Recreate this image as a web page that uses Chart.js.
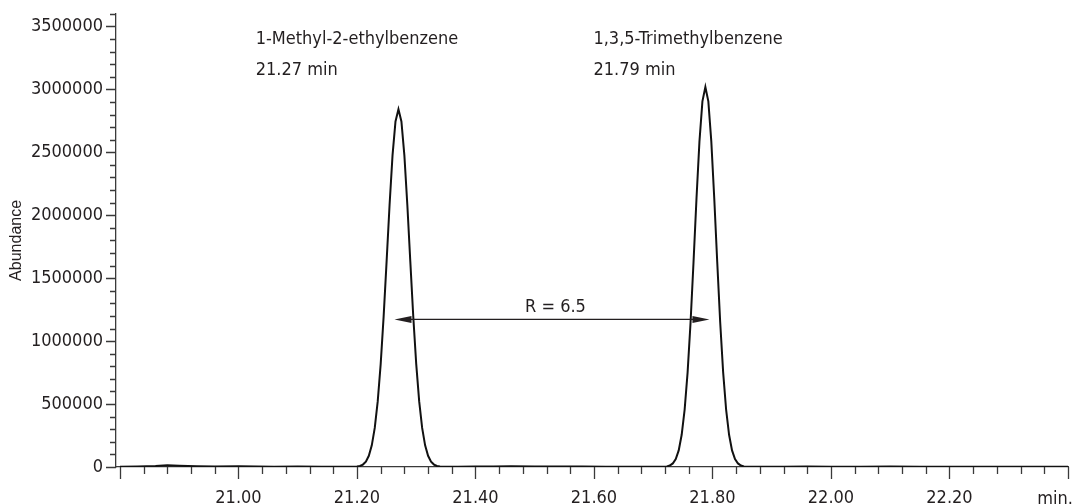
<!DOCTYPE html>
<html>
<head>
<meta charset="utf-8">
<script src="https://cdn.jsdelivr.net/npm/chart.js@4.4.1/dist/chart.umd.min.js"></script>
<style>
  body { margin: 0; background: #fff; }
  #wrap { width: 1077px; height: 504px; }
</style>
</head>
<body>
<div id="wrap"><canvas id="chrom" width="1077" height="504"></canvas></div>
<script>
// retention time (min) / abundance
var baseStartTimes = [20.80, 20.83, 20.86, 20.88, 20.90, 20.93, 20.96, 21.00, 21.03, 21.06, 21.10, 21.14, 21.17];
var baseStartValues = [2000, 4000, 8000, 13000, 10000, 5000, 3000, 6000, 4000, 2000, 3000, 2000, 1500];

var peak1Times = [21.190, 21.195, 21.200, 21.205, 21.210, 21.215, 21.220, 21.225, 21.230, 21.235, 21.240,
    21.245, 21.250, 21.255, 21.260, 21.265, 21.270, 21.275, 21.280, 21.285, 21.290, 21.295, 21.300,
    21.305, 21.310, 21.315, 21.320, 21.325, 21.330, 21.335, 21.340, 21.345, 21.350];
var peak1Values = [2000, 2500, 4000, 8200, 19400, 43000, 89000, 172000, 310000, 521000, 817000,
    1196000, 1633000, 2081000, 2475000, 2745000, 2842000, 2745000, 2475000, 2081000, 1633000, 1196000, 817000,
    521000, 310000, 172000, 89000, 43000, 19400, 8200, 4000, 2500, 2000];

var baseMidTimes = [21.37, 21.40, 21.43, 21.46, 21.50, 21.54, 21.58, 21.62, 21.66, 21.70];
var baseMidValues = [2000, 3000, 4000, 5000, 3000, 4000, 3000, 2000, 2500, 2000];

var peak2Times = [21.713, 21.718, 21.723, 21.728, 21.733, 21.738, 21.743, 21.748, 21.753, 21.758, 21.763,
    21.768, 21.773, 21.778, 21.783, 21.788, 21.793, 21.798, 21.803, 21.808, 21.813, 21.818, 21.823,
    21.828, 21.833, 21.838, 21.843, 21.848, 21.853, 21.858, 21.863];
var peak2Values = [2000, 2500, 4400, 11700, 28300, 63700, 132000, 256000, 456000, 752000, 1150000,
    1628000, 2133000, 2587000, 2904000, 3018000, 2904000, 2587000, 2133000, 1628000, 1150000, 752000, 456000,
    256000, 132000, 63700, 28300, 11700, 4400, 2500, 2000];

var baseEndTimes = [21.88, 21.92, 21.96, 22.00, 22.05, 22.10, 22.15, 22.20, 22.25, 22.30, 22.35, 22.40];
var baseEndValues = [2000, 2000, 3000, 2000, 2000, 3000, 2000, 2000, 2000, 2000, 2000, 2000];

var peakNames = ['1-Methyl-2-ethylbenzene', '1,3,5-Trimethylbenzene'];
var peakTimeLabels = ['21.27 min', '21.79 min'];
var resolutionLabel = 'R = 6.5';

var allTimes = baseStartTimes.concat(peak1Times, baseMidTimes, peak2Times, baseEndTimes);
var allValues = baseStartValues.concat(peak1Values, baseMidValues, peak2Values, baseEndValues);
var points = allTimes.map(function (t, i) { return { x: t, y: allValues[i] }; });

var narrow = '"Liberation Sans Narrow", "DejaVu Sans Condensed", sans-serif';
var axisColor = '#3a3a3a';
var textColor = '#231f20';

// tick marks (long majors, short minors) plus the text annotations
var extras = {
    id: 'extras',
    afterDraw: function (chart) {
        var c = chart.ctx;
        var xs = chart.scales.x;
        var ys = chart.scales.y;
        var area = chart.chartArea;
        c.save();
        c.strokeStyle = axisColor;
        c.lineWidth = 1.3;
        c.beginPath();
        ys.ticks.forEach(function (tk) {
            var py = Math.round(ys.getPixelForValue(tk.value)) + 0.5;
            var len = tk.value % 500000 === 0 ? 10 : 6;
            c.moveTo(area.left - len, py);
            c.lineTo(area.left, py);
        });
        xs.ticks.forEach(function (tk) {
            var px = Math.round(xs.getPixelForValue(tk.value)) + 0.5;
            var len = Math.round(tk.value * 100) % 20 === 0 ? 12 : 7;
            c.moveTo(px, area.bottom);
            c.lineTo(px, area.bottom + len);
        });
        c.stroke();

        c.fillStyle = textColor;
        c.font = '18px ' + narrow;
        c.textBaseline = 'middle';
        c.textAlign = 'left';
        c.fillText(peakNames[0], xs.getPixelForValue(21.029), ys.getPixelForValue(3397000));
        c.fillText(peakTimeLabels[0], xs.getPixelForValue(21.029), ys.getPixelForValue(3151000));
        c.fillText(peakNames[1], xs.getPixelForValue(21.599), ys.getPixelForValue(3397000));
        c.fillText(peakTimeLabels[1], xs.getPixelForValue(21.599), ys.getPixelForValue(3151000));

        c.textAlign = 'center';
        c.fillText(resolutionLabel, xs.getPixelForValue(21.535), ys.getPixelForValue(1267000));

        c.textAlign = 'right';
        c.fillText('min.', 1073, 499);

        // double arrow between the peaks
        var ay = ys.getPixelForValue(1172000);
        var ax1 = xs.getPixelForValue(21.2633);
        var ax2 = xs.getPixelForValue(21.7949);
        c.strokeStyle = textColor;
        c.lineWidth = 1.2;
        c.beginPath();
        c.moveTo(ax1 + 10, ay);
        c.lineTo(ax2 - 10, ay);
        c.stroke();
        c.beginPath();
        c.moveTo(ax1, ay);
        c.lineTo(ax1 + 17, ay - 3.5);
        c.lineTo(ax1 + 17, ay + 3.5);
        c.closePath();
        c.moveTo(ax2, ay);
        c.lineTo(ax2 - 17, ay - 3.5);
        c.lineTo(ax2 - 17, ay + 3.5);
        c.closePath();
        c.fill();

        c.translate(ys.left + 17, (area.top + area.bottom) / 2);
        c.rotate(-Math.PI / 2);
        c.font = '16px "Liberation Sans", Arial, sans-serif';
        c.textAlign = 'center';
        c.fillText('Abundance', 0, 0);
        c.restore();
    }
};

var ctx = document.getElementById('chrom').getContext('2d');
new Chart(ctx, {
    type: 'line',
    data: {
        datasets: [{
            label: 'Abundance',
            data: points,
            borderColor: '#111111',
            borderWidth: 2,
            pointRadius: 0,
            tension: 0,
            fill: false
        }]
    },
    options: {
        responsive: false,
        animation: false,
        layout: { padding: { top: 12, right: 9, left: 0, bottom: 0 } },
        plugins: { legend: { display: false }, tooltip: { enabled: false } },
        scales: {
            x: {
                type: 'linear',
                min: 20.7933,
                max: 22.40,
                afterBuildTicks: function (scale) {
                    var ticks = [];
                    for (var i = 0; i <= 40; i++) {
                        ticks.push({ value: Math.round((20.80 + i * 0.04) * 100) / 100 });
                    }
                    scale.ticks = ticks;
                },
                afterFit: function (scale) { scale.height = 37; },
                grid: { drawOnChartArea: false, tickLength: 12, tickColor: 'transparent' },
                border: { color: axisColor, width: 1.3 },
                ticks: {
                    autoSkip: false,
                    maxRotation: 0,
                    padding: 9,
                    color: textColor,
                    font: { family: narrow, size: 18 },
                    callback: function (value) {
                        var r = Math.round(value * 100);
                        if (r % 20 === 0 && r > 2080 && r < 2240) return value.toFixed(2);
                        return '';
                    }
                }
            },
            y: {
                min: 0,
                max: 3600000,
                afterFit: function (scale) { scale.width = 116; },
                grid: { drawOnChartArea: false, tickLength: 10, tickColor: 'transparent' },
                border: { color: axisColor, width: 1.3 },
                ticks: {
                    stepSize: 100000,
                    autoSkip: false,
                    padding: 3,
                    color: textColor,
                    font: { family: narrow, size: 18 },
                    callback: function (value) {
                        return value % 500000 === 0 ? String(value) : '';
                    }
                }
            }
        }
    },
    plugins: [extras]
});
</script>
</body>
</html>
